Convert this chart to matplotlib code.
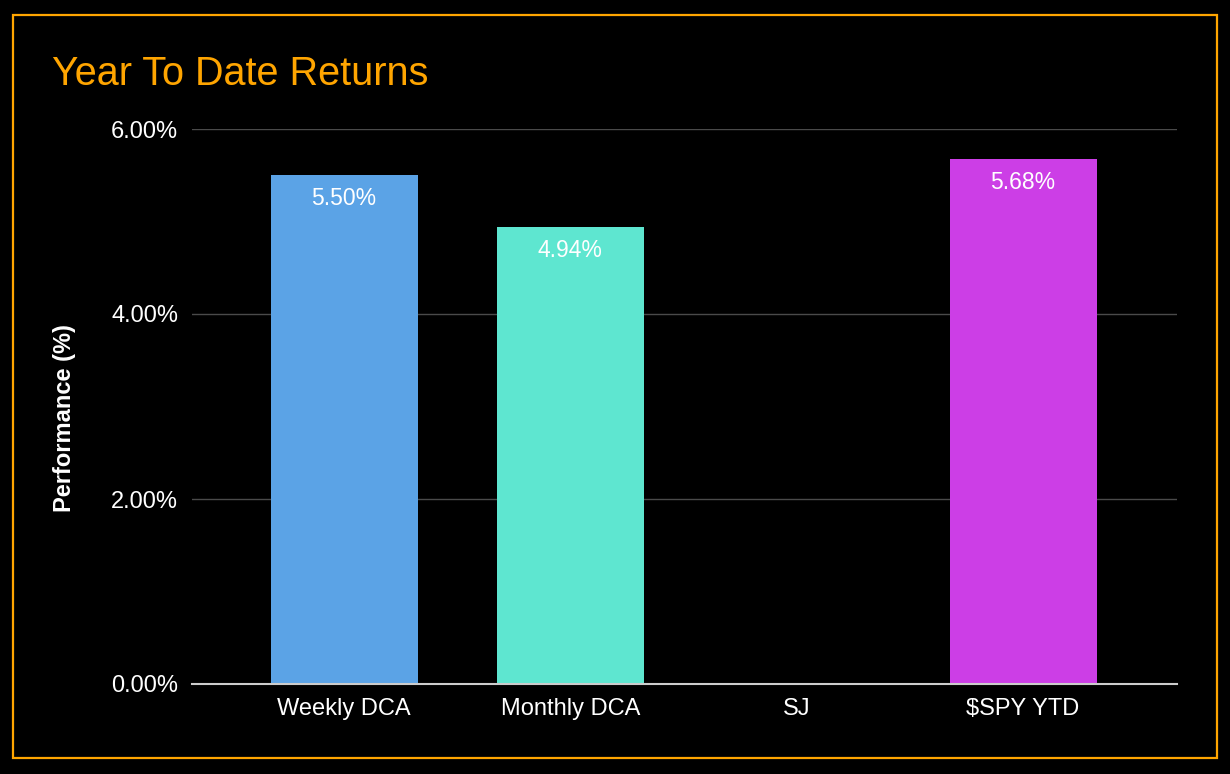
import numpy as np
import matplotlib.pyplot as plt
from matplotlib.patches import Rectangle
from matplotlib.ticker import FuncFormatter

plt.rcParams['font.family'] = ['Liberation Sans', 'DejaVu Sans']

categories = ["Weekly DCA", "Monthly DCA", "SJ", "$SPY YTD"]
returns = [5.50, 4.94, np.nan, 5.68]   # percent, SJ has no value
colors = ["#5ba3e6", "#5ee6d0", "#888888", "#cc3ee6"]
yticks = [0, 2, 4, 6]

fig = plt.figure(figsize=(12.3, 7.74), dpi=100, facecolor="black")
ax = fig.add_axes([192 / 1230, 1 - 684 / 774, (1177 - 192) / 1230, (684 - 129) / 774])
ax.set_facecolor("black")

# orange frame around the whole chart
fig.patches.append(Rectangle((13 / 1230, 1 - 758 / 774), (1217 - 13) / 1230, (758 - 15) / 774,
                             transform=fig.transFigure, fill=False, edgecolor="#ffa500", linewidth=1.6))

x = np.arange(len(categories))
bars = ax.bar(x, returns, width=0.65, color=colors, zorder=3)
for xi, v in zip(x, returns):
    if np.isnan(v):
        continue
    ax.text(xi, v - 0.13, f"{v:.2f}%", ha="center", va="top", color="white", fontsize=16.5, zorder=4)

ax.set_xlim(-0.672, 3.68)
ax.set_ylim(0, 6)
ax.set_yticks(yticks)
ax.yaxis.set_major_formatter(FuncFormatter(lambda v, p: f"{v:.2f}%"))
ax.set_xticks(x)
ax.set_xticklabels(categories)
ax.tick_params(colors="white", labelsize=17, length=0)
ax.tick_params(axis="y", pad=10)
ax.tick_params(axis="x", pad=10)
ax.grid(axis="y", color="#4a4a4a", linewidth=1, zorder=0)
for s in ["top", "right", "left"]:
    ax.spines[s].set_visible(False)
ax.spines["bottom"].set_color("#cccccc")
ax.spines["bottom"].set_linewidth(1.5)
ax.spines["bottom"].set_zorder(5)

ax.set_ylabel("Performance (%)", color="white", fontsize=17, fontweight="bold")
ax.yaxis.set_label_coords(-0.118, 0.48)

fig.text(52 / 1230, 1 - 74 / 774, "Year To Date Returns", color="#ffa500", fontsize=28.5,
         ha="left", va="center")

fig.savefig("out.png", dpi=100, facecolor="black")
